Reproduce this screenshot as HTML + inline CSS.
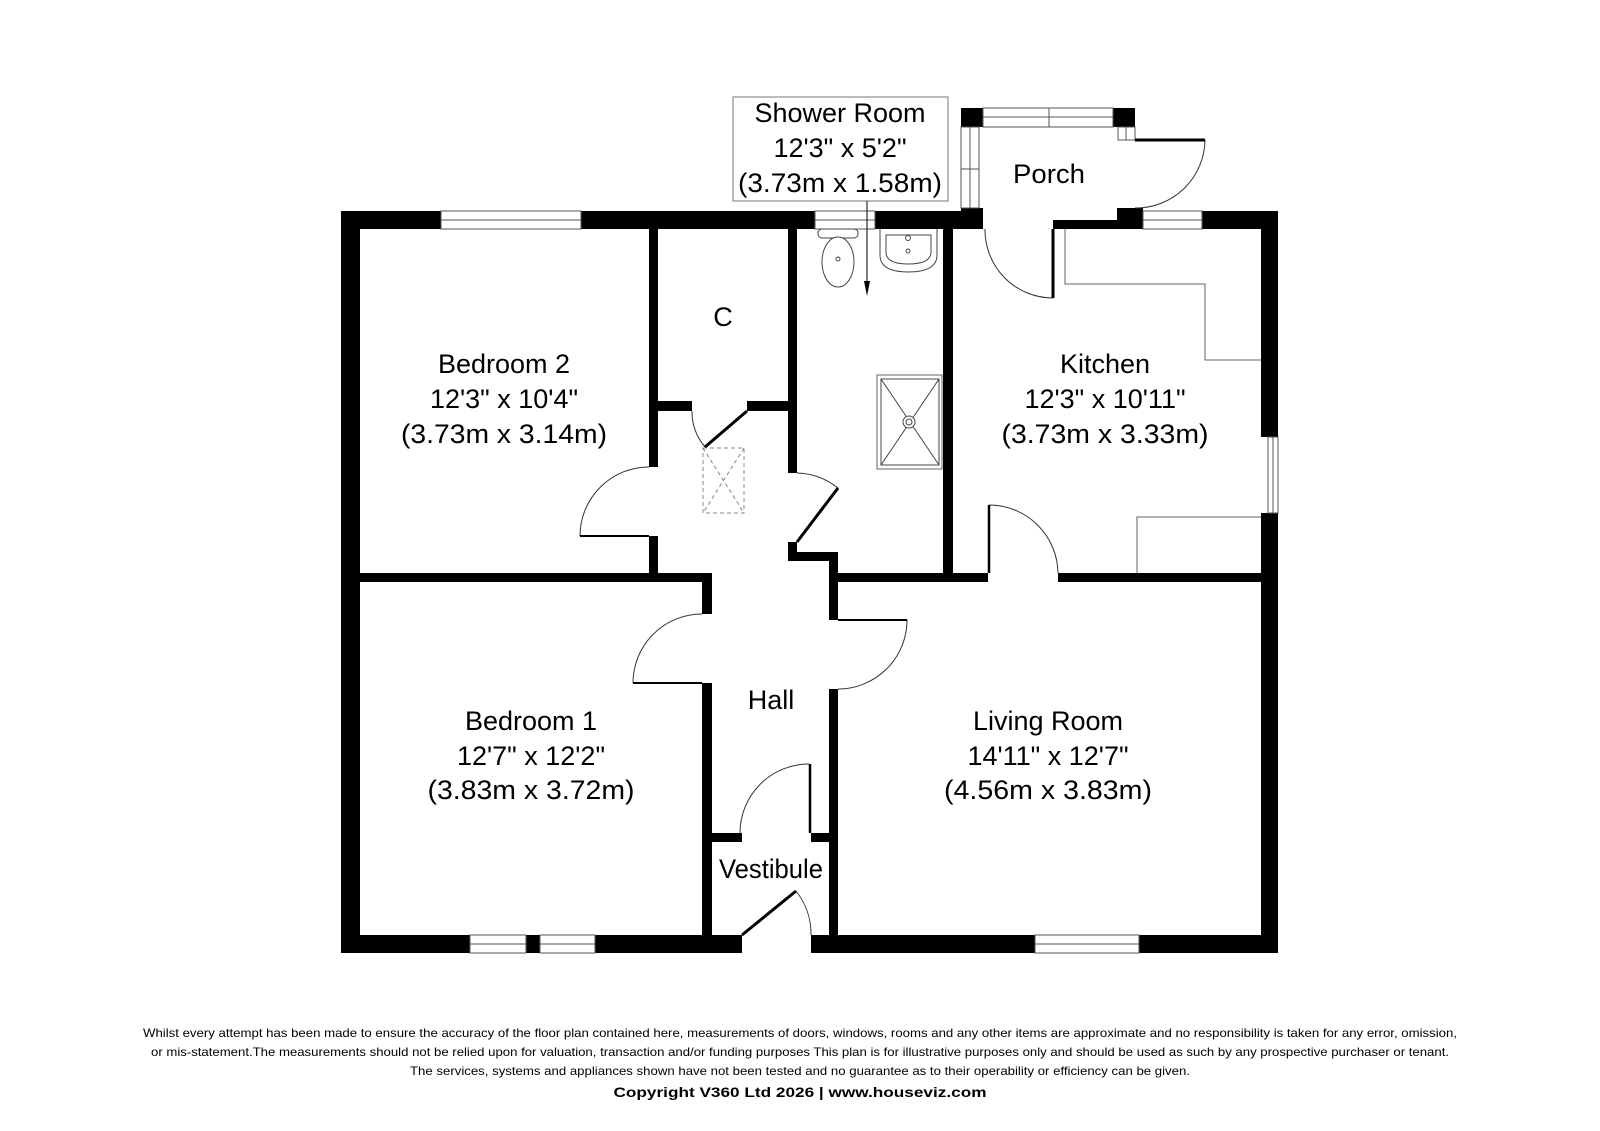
<!DOCTYPE html>
<html><head><meta charset="utf-8"><style>
html,body{margin:0;padding:0;background:#fff;}
svg{display:block;}
text{font-family:"Liberation Sans",Arial,sans-serif;fill:#000;}
</style></head><body>
<svg width="1600" height="1131" viewBox="0 0 1600 1131" xmlns="http://www.w3.org/2000/svg">
<rect width="1600" height="1131" fill="#fff"/>
<g fill="#000">
<rect x="341" y="211" width="100" height="18"/>
<rect x="581" y="211" width="234" height="18"/>
<rect x="875" y="211" width="108" height="18"/>
<rect x="961" y="208" width="22" height="21"/>
<rect x="1053" y="220" width="66" height="9"/>
<rect x="1117" y="208" width="26" height="21"/>
<rect x="1202" y="211" width="76" height="18"/>
<rect x="341" y="211" width="19" height="742"/>
<rect x="1261" y="211" width="17" height="226"/>
<rect x="1261" y="513" width="17" height="440"/>
<rect x="341" y="935" width="129" height="18"/>
<rect x="526" y="935" width="14" height="18"/>
<rect x="595" y="935" width="147" height="18"/>
<rect x="811" y="935" width="224" height="18"/>
<rect x="1139" y="935" width="139" height="18"/>
<rect x="649" y="229" width="9" height="238"/>
<rect x="649" y="536" width="9" height="46"/>
<rect x="360" y="573" width="352" height="9"/>
<rect x="658" y="401" width="34" height="10"/>
<rect x="747" y="401" width="50" height="10"/>
<rect x="788" y="229" width="9" height="244"/>
<rect x="788" y="542" width="9" height="19"/>
<rect x="788" y="552" width="50" height="9"/>
<rect x="829" y="552" width="9" height="68"/>
<rect x="829" y="573" width="159" height="9"/>
<rect x="943" y="229" width="10" height="353"/>
<rect x="1058" y="573" width="220" height="9"/>
<rect x="702" y="573" width="10" height="41"/>
<rect x="702" y="683" width="10" height="270"/>
<rect x="829" y="689" width="9" height="264"/>
<rect x="712" y="833" width="30" height="9"/>
<rect x="811" y="833" width="18" height="9"/>
<rect x="961" y="108" width="22" height="19"/>
<rect x="1113" y="108" width="22" height="19"/>
</g>
<g fill="none" stroke="#555" stroke-width="1">
<rect x="441" y="211" width="140" height="18"/><line x1="441" y1="220" x2="581" y2="220"/>
<rect x="815" y="211" width="60" height="18"/><line x1="815" y1="220" x2="875" y2="220"/>
<rect x="1143" y="211" width="59" height="18"/><line x1="1143" y1="220" x2="1202" y2="220"/>
<rect x="1268" y="437" width="10" height="76"/><line x1="1273" y1="437" x2="1273" y2="513"/>
<rect x="470" y="935" width="56" height="18"/><line x1="470" y1="944" x2="526" y2="944"/>
<rect x="540" y="935" width="55" height="18"/><line x1="540" y1="944" x2="595" y2="944"/>
<rect x="1035" y="935" width="104" height="18"/><line x1="1035" y1="944" x2="1139" y2="944"/>
<rect x="983" y="108" width="130" height="19"/><line x1="983" y1="117" x2="1113" y2="117"/><line x1="1049" y1="108" x2="1049" y2="127"/>
<rect x="961" y="127" width="18" height="81"/><line x1="970" y1="127" x2="970" y2="208"/><line x1="961" y1="169" x2="979" y2="169"/>
<rect x="1118" y="127" width="17" height="13"/><line x1="1126" y1="127" x2="1126" y2="140"/>
<rect x="733" y="97" width="215" height="104" stroke="#777"/>
<polyline points="1065,229 1065,284 1205,284 1205,360 1261,360" stroke="#666"/>
<polyline points="1137,573 1137,517 1261,517" stroke="#666"/>
<rect x="877" y="375" width="65" height="94" stroke="#666"/>
<rect x="881" y="379" width="58" height="86" stroke="#444"/>
<line x1="881" y1="379" x2="939" y2="465" stroke="#444"/><line x1="939" y1="379" x2="881" y2="465" stroke="#444"/>
<circle cx="909" cy="422" r="6" fill="#fff" stroke="#444"/><circle cx="909" cy="422" r="3" stroke="#444"/>
<rect x="818" y="229" width="40" height="9" rx="4" fill="#fff" stroke="#444"/>
<ellipse cx="838" cy="262" rx="16" ry="25" fill="#fff" stroke="#444"/>
<circle cx="838" cy="259" r="2" stroke="#444"/>
<path d="M880,229 L880,255 Q880,272 908,272 Q937,272 937,255 L937,229" fill="#fff" stroke="#444"/>
<path d="M886,235 L886,252 Q886,264 908,264 Q931,264 931,252 L931,235 Z" stroke="#444"/>
<circle cx="908" cy="251" r="2" stroke="#444"/><circle cx="908" cy="238" r="2.5" stroke="#444"/>
<g stroke="#888" stroke-dasharray="4,3">
<rect x="703" y="448" width="41" height="65"/>
<line x1="703" y1="448" x2="744" y2="513"/><line x1="744" y1="448" x2="703" y2="513"/>
</g>
<path d="M692,411 A55,55 0 0 0 705,447" stroke="#333"/>
<path d="M649,467 A69,69 0 0 0 580,536" stroke="#333"/>
<path d="M797,473 A69,69 0 0 1 838,488" stroke="#333"/>
<path d="M702,614 A69,69 0 0 0 633,683" stroke="#333"/>
<path d="M907,620 A69,69 0 0 1 838,689" stroke="#333"/>
<path d="M809,764 A69,69 0 0 0 740,833" stroke="#333"/>
<path d="M796,891 A69,69 0 0 1 811,935" stroke="#333"/>
<path d="M989,505 A69,69 0 0 1 1058,573" stroke="#333"/>
<path d="M985,229 A68,68 0 0 0 1053,298" stroke="#333"/>
<path d="M1205,140 A69,69 0 0 1 1135,208" stroke="#333"/>
</g>
<g stroke="#000" stroke-width="3" fill="none">
<line x1="705" y1="447" x2="747" y2="411"/>
<line x1="580" y1="536" x2="649" y2="536" stroke-width="2"/>
<line x1="797" y1="542" x2="838" y2="488"/>
<line x1="633" y1="683" x2="702" y2="683" stroke-width="2"/>
<line x1="838" y1="620" x2="907" y2="620" stroke-width="2"/>
<line x1="810" y1="764" x2="810" y2="833" stroke-width="2.5"/>
<line x1="742" y1="935" x2="796" y2="891"/>
<line x1="989" y1="505" x2="989" y2="573" stroke-width="2.5"/>
<line x1="1053" y1="229" x2="1053" y2="298"/>
<line x1="1135" y1="140" x2="1205" y2="140"/>
</g>
<line x1="867" y1="201" x2="867" y2="284" stroke="#000" stroke-width="1"/>
<polygon points="864,281 870,281 867,296" fill="#000"/>
<g font-size="27" text-anchor="middle" dominant-baseline="central">
<text x="840" y="113">Shower Room</text>
<text x="840" y="148">12'3" x 5'2"</text>
<text x="840" y="183" textLength="204" lengthAdjust="spacingAndGlyphs">(3.73m x 1.58m)</text>
<text x="1049" y="174" textLength="72" lengthAdjust="spacingAndGlyphs">Porch</text>
<text x="723" y="317">C</text>
<text x="504" y="364">Bedroom 2</text>
<text x="504" y="399">12'3" x 10'4"</text>
<text x="504" y="434" textLength="206" lengthAdjust="spacingAndGlyphs">(3.73m x 3.14m)</text>
<text x="1105" y="364">Kitchen</text>
<text x="1105" y="399">12'3" x 10'11"</text>
<text x="1105" y="434" textLength="207" lengthAdjust="spacingAndGlyphs">(3.73m x 3.33m)</text>
<text x="531" y="721">Bedroom 1</text>
<text x="531" y="756">12'7" x 12'2"</text>
<text x="531" y="790" textLength="207" lengthAdjust="spacingAndGlyphs">(3.83m x 3.72m)</text>
<text x="1048" y="721">Living Room</text>
<text x="1048" y="756">14'11" x 12'7"</text>
<text x="1048" y="790" textLength="208" lengthAdjust="spacingAndGlyphs">(4.56m x 3.83m)</text>
<text x="771" y="700">Hall</text>
<text x="771" y="869" textLength="104" lengthAdjust="spacingAndGlyphs">Vestibule</text>
</g>
<g font-size="12" text-anchor="middle" dominant-baseline="central">
<text x="800" y="1033" textLength="1314" lengthAdjust="spacingAndGlyphs">Whilst every attempt has been made to ensure the accuracy of the floor plan contained here, measurements of doors, windows, rooms and any other items are approximate and no responsibility is taken for any error, omission,</text>
<text x="800" y="1052" textLength="1298" lengthAdjust="spacingAndGlyphs">or mis-statement.The measurements should not be relied upon for valuation, transaction and/or funding purposes This plan is for illustrative purposes only and should be used as such by any prospective purchaser or tenant.</text>
<text x="800" y="1071" textLength="780" lengthAdjust="spacingAndGlyphs">The services, systems and appliances shown have not been tested and no guarantee as to their operability or efficiency can be given.</text>
<text x="800" y="1092" font-size="14" font-weight="bold" textLength="373" lengthAdjust="spacingAndGlyphs">Copyright V360 Ltd 2026 | www.houseviz.com</text>
</g>
</svg>
</body></html>
